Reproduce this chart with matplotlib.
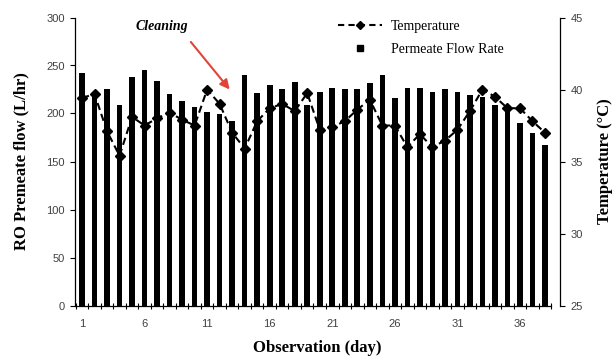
#!/usr/bin/env python3
"""RO permeate flow and temperature over the observation period."""

import matplotlib
matplotlib.use('Agg')
import matplotlib.pyplot as plt
from matplotlib.lines import Line2D

plt.rcParams['font.family'] = 'Liberation Sans'
plt.rcParams['font.size'] = 8

# Data
days = list(range(1, 39))
flow = [242, 222, 225, 209, 238, 245, 234, 220, 213, 207,
        202, 199, 192, 240, 221, 230, 225, 233, 209, 222,
        227, 225, 225, 232, 240, 216, 227, 227, 222, 225,
        222, 219, 217, 209, 205, 190, 180, 167]
temperature = [39.4, 39.7, 37.1, 35.4, 38.1, 37.5, 38.0, 38.4, 37.9, 37.5,
               40.0, 39.0, 37.0, 35.9, 37.8, 38.7, 39.0, 38.5, 39.75, 37.2,
               37.4, 37.8, 38.6, 39.3, 37.5, 37.5, 36.0, 36.9, 36.0, 36.45,
               37.2, 38.5, 40.0, 39.5, 38.7, 38.7, 37.8, 37.0]
label_days = [1, 6, 11, 16, 21, 26, 31, 36]

SERIF = 'Liberation Serif'
TICK_COLOR = '#404040'

fig = plt.figure(figsize=(6.14, 3.59), dpi=100)
ax = fig.add_axes([75 / 614, 53.5 / 359, (560 - 75) / 614, (305.5 - 17.5) / 359])
ax2 = ax.twinx()

ax.bar(days, flow, width=0.45, color='black', zorder=2)
ax2.plot(days, temperature, color='black', linestyle=(0, (3.5, 2)), linewidth=1.5,
         marker='D', markersize=5.5, zorder=3)

ax.set_xlim(0.44, 39.2)
ax.set_ylim(0, 300)
ax2.set_ylim(25, 45)
ax.set_yticks(range(0, 301, 50))
ax2.set_yticks(range(25, 46, 5))

# category-boundary ticks, labels on every fifth day
ax.set_xticks([d - 0.5 for d in range(1, 40)])
ax.set_xticklabels([])
ax.set_xticks(label_days, minor=True)
ax.set_xticklabels([str(d) for d in label_days], minor=True)
ax.tick_params(axis='x', which='major', direction='inout', length=5, width=0.8)
ax.tick_params(axis='x', which='minor', length=0, pad=10, labelcolor=TICK_COLOR)
ax.tick_params(axis='y', direction='out', length=3.5, width=0.8, pad=4, labelcolor=TICK_COLOR)
ax2.tick_params(axis='y', direction='out', length=3.5, width=0.8, pad=4, labelcolor=TICK_COLOR)

for a in (ax, ax2):
    a.spines['top'].set_visible(False)
    for s in a.spines.values():
        s.set_linewidth(0.9)
ax.spines['right'].set_visible(False)
ax2.spines['left'].set_visible(False)
ax2.spines['bottom'].set_visible(False)
ax.spines['bottom'].set_bounds(0.5, 38.5)

ax.set_xlabel('Observation (day)', family=SERIF, fontweight='bold', fontsize=12, labelpad=8)
ax.set_ylabel('RO Premeate flow (L/hr)', family=SERIF, fontweight='bold', fontsize=12, labelpad=12)
ax2.set_ylabel('Temperature (\u00b0C)', family=SERIF, fontweight='bold', fontsize=12, labelpad=10)

# Cleaning annotation
ax2.text(7.4, 44.35, 'Cleaning', fontsize=10, family=SERIF, fontweight='bold',
         fontstyle='italic', ha='center', va='center')
ax2.annotate('', xy=(12.8, 40.0), xytext=(9.7, 43.3),
             arrowprops=dict(arrowstyle='-|>', color='#e0453a', lw=1.5,
                             mutation_scale=14, shrinkA=0, shrinkB=0))

handles = [
    Line2D([], [], color='black', linestyle=(0, (3, 2)), linewidth=1.5,
           marker='D', markersize=4),
    Line2D([], [], color='black', linestyle='none', marker='s', markersize=5),
]
fig.legend(handles, ['Temperature', 'Permeate Flow Rate'], loc='upper left',
           bbox_to_anchor=(338 / 614, 1 - 20 / 359), bbox_transform=fig.transFigure,
           frameon=False, handlelength=3.2, handletextpad=0.6, borderpad=0,
           borderaxespad=0, prop={'family': SERIF, 'size': 10}, labelspacing=0.7)

fig.savefig('out.png', dpi=100)
